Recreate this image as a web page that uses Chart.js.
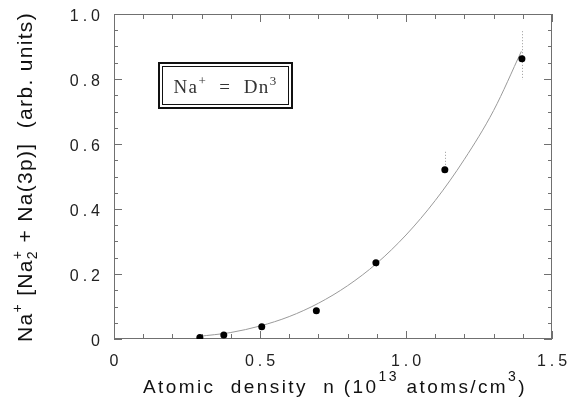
<!DOCTYPE html>
<html>
<head>
  <meta charset="utf-8" />
  <title>Na+ vs atomic density</title>
  <style>
html, body { margin: 0; padding: 0; background: #fff; }
#chartContainer { width: 571px; height: 400px; }
  </style>
</head>
<body>
  <div id="chartContainer">
    <canvas id="myChart"></canvas>
  </div>
  <script src="https://cdn.jsdelivr.net/npm/chart.js"></script>
  <script>
// measured points: density (10^13 atoms/cm^3) vs signal (arb. units)
const densities = [0.294, 0.376, 0.506, 0.693, 0.897, 1.133, 1.397];
const signals   = [0.005, 0.012, 0.038, 0.087, 0.235, 0.521, 0.862];
const errHigh   = [null, null, null, null, null, 0.576, 0.947];
const errLow    = [null, null, null, null, 0.22, null, 0.797];
// fit curve Na+ = Dn^3
const fitX = [0.29, 0.4, 0.5, 0.6, 0.7, 0.8, 0.9, 1.0, 1.1, 1.2, 1.3, 1.395];
const fitY = [0.008, 0.02, 0.04, 0.069, 0.11, 0.164, 0.233, 0.32, 0.426, 0.553, 0.703, 0.885];
const xTicks = [0, 0.5, 1.0, 1.5];
const yTicks = [0, 0.2, 0.4, 0.6, 0.8, 1.0];

const SANS = '"Liberation Sans", Arial, sans-serif';
const SERIF = '"Liberation Serif", "Times New Roman", serif';

// text runs with super/subscripts; run = [text, size, dy, stack]
function layoutRuns(ctx, runs, font, ls) {
  let cx = 0, lastStart = 0;
  const out = [];
  ctx.letterSpacing = '0px';
  for (const [text, size, dy, stack] of runs) {
    ctx.font = size + 'px ' + font;
    const start = stack ? lastStart : cx;
    out.push({text, size, dy, x: start});
    lastStart = start;
    cx = Math.max(cx, start + ctx.measureText(text).width + ls * text.length);
  }
  return {items: out, width: cx};
}
function drawRuns(ctx, runs, font, cx, y, target) {
  let ls = 0;
  if (target) {
    const nat = layoutRuns(ctx, runs, font, 0).width;
    const n = runs.reduce((s, r) => s + (r[3] ? 0 : r[0].length), 0);
    ls = (target - nat) / n;
  }
  const lay = layoutRuns(ctx, runs, font, ls);
  const x0 = cx - lay.width / 2;
  ctx.letterSpacing = ls + 'px';
  for (const it of lay.items) {
    ctx.font = it.size + 'px ' + font;
    ctx.fillText(it.text, x0 + it.x, y + it.dy);
  }
  ctx.letterSpacing = '0px';
}

const yTitle = [
  ['Na', 21, 0], ['+', 14, -10], [' [Na', 21, 0], ['2', 14, 5], ['+', 14, -10, true],
  [' + Na(3p)]  (arb. units)', 21, 0]
];
const xTitle = [
  ['Atomic  density  n (10', 19, 0], ['13', 14, -12], [' atoms/cm', 19, 0], ['3', 14, -12], [')', 19, 0]
];
const boxText = [['Na', 19, 0], ['+', 13, -8], ['  =  Dn', 19, 0], ['3', 13, -8]];

const decor = {
  id: 'decor',
  beforeDraw(chart) {
    chart.ctx.letterSpacing = '4px';
  },
  beforeDatasetsDraw(chart) {
    const {ctx, chartArea: a, scales: {x, y}} = chart;
    ctx.save();
    ctx.letterSpacing = '0px';
    ctx.strokeStyle = '#707070';
    ctx.lineWidth = 1;
    ctx.strokeRect(a.left + 0.5, a.top + 0.5, a.width - 1, a.height - 1);
    ctx.beginPath();
    for (let i = 0; i <= 15; i++) {
      const px = Math.round(x.getPixelForValue(i / 10)) + 0.5;
      const len = i % 5 === 0 ? 8 : 5;
      ctx.moveTo(px, a.bottom); ctx.lineTo(px, a.bottom - len);
      ctx.moveTo(px, a.top); ctx.lineTo(px, a.top + len);
    }
    for (let i = 0; i <= 20; i++) {
      const py = Math.round(y.getPixelForValue(i / 20)) + 0.5;
      const len = i % 4 === 0 ? 8 : 4;
      ctx.moveTo(a.left, py); ctx.lineTo(a.left + len, py);
      ctx.moveTo(a.right, py); ctx.lineTo(a.right - len, py);
    }
    ctx.stroke();

    // error bars
    ctx.strokeStyle = '#999';
    ctx.setLineDash([1, 2]);
    ctx.beginPath();
    densities.forEach((d, i) => {
      const px = Math.round(x.getPixelForValue(d)) + 0.5;
      if (errHigh[i] != null) {
        ctx.moveTo(px, y.getPixelForValue(errHigh[i]));
        ctx.lineTo(px, y.getPixelForValue(signals[i]));
      }
      if (errLow[i] != null) {
        ctx.moveTo(px, y.getPixelForValue(signals[i]));
        ctx.lineTo(px, y.getPixelForValue(errLow[i]));
      }
    });
    ctx.stroke();
    ctx.setLineDash([]);

    // legend box
    const bx = 158, by = 62, bw = 135, bh = 47;
    ctx.strokeStyle = '#111';
    ctx.lineWidth = 2;
    ctx.strokeRect(bx + 1, by + 1, bw - 2, bh - 2);
    ctx.lineWidth = 1;
    ctx.strokeRect(bx + 4.5, by + 4.5, bw - 9, bh - 9);
    ctx.fillStyle = '#333';
    ctx.textBaseline = 'alphabetic';
    drawRuns(ctx, boxText, SERIF, bx + bw / 2, 93, 104);
    ctx.restore();
  },
  afterDraw(chart) {
    const {ctx} = chart;
    ctx.save();
    ctx.fillStyle = '#111';
    ctx.textBaseline = 'alphabetic';
    drawRuns(ctx, xTitle, SANS, 335, 393, 384);
    ctx.translate(32, 177);
    ctx.rotate(-Math.PI / 2);
    drawRuns(ctx, yTitle, SANS, 0, 0, 330);
    ctx.restore();
    ctx.letterSpacing = '0px';
  }
};

const tickFont = { family: SANS, size: 16 };
const fmt = v => v === 0 ? '0' : v.toFixed(1);

const ctx = document.getElementById('myChart');
const chart = new Chart(ctx, {
  type: 'scatter',
  data: {
    datasets: [{
      label: 'data',
      data: densities.map((d, i) => ({x: d, y: signals[i]})),
      pointRadius: 3.5,
      pointBackgroundColor: '#000',
      pointBorderColor: '#000',
      pointBorderWidth: 0,
      showLine: false,
      order: 0
    }, {
      label: 'fit',
      data: fitX.map((d, i) => ({x: d, y: fitY[i]})),
      showLine: true,
      borderColor: '#9a9a9a',
      borderWidth: 1,
      pointRadius: 0,
      cubicInterpolationMode: 'monotone',
      order: 1
    }]
  },
  options: {
    responsive: true,
    maintainAspectRatio: false,
    animation: false,
    layout: { padding: { top: 14, right: 19, left: 0, bottom: 0 } },
    plugins: { legend: { display: false }, tooltip: { enabled: false } },
    scales: {
      x: {
        type: 'linear', min: 0, max: 1.5,
        afterBuildTicks: s => { s.ticks = xTicks.map(v => ({value: v})); },
        afterFit: s => { s.height = 61; s.paddingLeft = 0; s.paddingRight = 0; },
        grid: { display: false, drawTicks: false },
        border: { display: false },
        ticks: { color: '#222', padding: 13, labelOffset: 2, font: tickFont, callback: fmt }
      },
      y: {
        type: 'linear', min: 0, max: 1.0,
        afterBuildTicks: s => { s.ticks = yTicks.map(v => ({value: v})); },
        afterFit: s => { s.width = 114; s.paddingTop = 0; s.paddingBottom = 0; },
        grid: { display: false, drawTicks: false },
        border: { display: false },
        ticks: { color: '#222', padding: 10, labelOffset: 3, font: tickFont, callback: fmt }
      }
    }
  },
  plugins: [decor]
});
  </script>
</body>
</html>
